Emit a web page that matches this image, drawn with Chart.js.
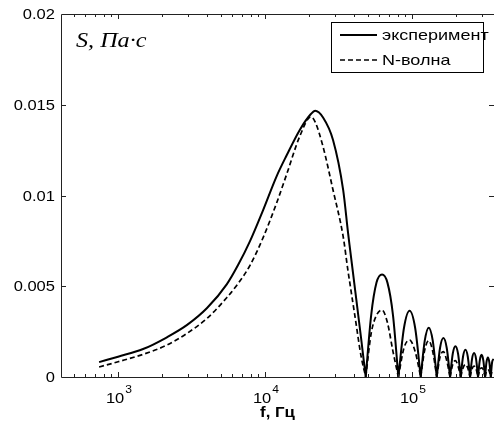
<!DOCTYPE html>
<html>
<head>
<meta charset="utf-8">
<script src="https://cdn.jsdelivr.net/npm/chart.js@4/dist/chart.umd.min.js"></script>
<style>
  html, body { margin: 0; padding: 0; background: #fff; }
  canvas { display: block; }
</style>
</head>
<body>
<canvas id="chart" width="494" height="428"></canvas>
<script>
// Frequency grid, Hz. A repeated frequency with a null value splits the
// curve at each zero of the spectrum, so every lobe is drawn on its own.
const freqHz = [
  743, 1000, 1480, 2150, 2950, 4030, 5500, 6550, 7900, 9700, 12000, 14000, 17300,
  20500, 21900, 24800, 29000, 34000, 36700, 37800, 40900, 45000, 48400,
  48400,
  48400, 52700, 57300, 62500, 68000, 74200, 80700,
  80700,
  80700, 88100, 96200, 105000, 114500,
  114500,
  114500, 122000, 129900, 138300, 147300,
  147300,
  147300, 155000, 163400, 172200, 181400,
  181400,
  181400, 189200, 197200, 205600, 214300,
  214300,
  214300, 222300, 230700, 239300, 248100,
  248100,
  248100, 256000, 264100, 272500, 281000,
  281000,
  281000, 289000, 297100, 305300, 314000,
  314000,
  314000, 320700, 328100, 335700, 343000,
  343000,
  343000, 350200, 358500
];

// Spectral density S, Pa·s — measured
const sExperiment = [
  0.00082, 0.00112, 0.00154, 0.00219, 0.00287, 0.0038, 0.00512, 0.00617, 0.00749, 0.0092, 0.01107, 0.0122, 0.01364,
  0.01449, 0.01467, 0.0143, 0.01306, 0.0103, 0.00794, 0.00709, 0.00486, 0.00214, 0,
  null,
  0, 0.0034, 0.0052, 0.00565, 0.0052, 0.0034, 0,
  null,
  0, 0.0027, 0.00365, 0.0027, 0,
  null,
  0, 0.0020, 0.00272, 0.0020, 0,
  null,
  0, 0.0016, 0.00215, 0.0016, 0,
  null,
  0, 0.00128, 0.0017, 0.00128, 0,
  null,
  0, 0.00113, 0.0015, 0.00113, 0,
  null,
  0, 0.0010, 0.00132, 0.0010, 0,
  null,
  0, 0.00092, 0.00122, 0.00092, 0,
  null,
  0, 0.0008, 0.00108, 0.0008, 0,
  null,
  0, 0.0008, 0.0010
];

// Spectral density S, Pa·s — ideal N-wave
const sNWave = [
  0.00055, 0.00084, 0.00125, 0.00176, 0.00241, 0.00323, 0.00438, 0.00515, 0.00615, 0.00768, 0.0096, 0.01115, 0.0133,
  0.01434, 0.01406, 0.01269, 0.0103, 0.00773, 0.00582, 0.00514, 0.00334, 0.00115, 0,
  null,
  0, 0.0024, 0.0034, 0.00369, 0.0030, 0.0014, 0,
  null,
  0, 0.0016, 0.00204, 0.0014, 0,
  null,
  0, 0.0015, 0.0020, 0.0014, 0,
  null,
  0, 0.0011, 0.0014, 0.0009, 0,
  null,
  0, 0.0007, 0.0009, 0.0006, 0,
  null,
  0, 0.0005, 0.0007, 0.0005, 0,
  null,
  0, 0.00045, 0.0006, 0.00045, 0,
  null,
  0, 0.0004, 0.0005, 0.0004, 0,
  null,
  0, 0.0003, 0.0004, 0.0003, 0,
  null,
  0, 0.0003, 0.0004
];

const seriesLabels = ['эксперимент', 'N-волна'];
const yTickValues = [0, 0.005, 0.01, 0.015, 0.02];
const yTickLabels = ['0', '0.005', '0.01', '0.015', '0.02'];
const xDecades = [1e3, 1e4, 1e5];
const xDecadeExponents = ['3', '4', '5'];
const xMinorTicks = [500, 600, 700, 800, 900,
  2000, 3000, 4000, 5000, 6000, 7000, 8000, 9000,
  20000, 30000, 40000, 50000, 60000, 70000, 80000, 90000,
  200000, 300000];
const xAxisTitle = 'f, Гц';
const yAxisTitle = 'S, Па·с';

const toPoints = values => freqHz.map((f, i) => ({ x: f, y: values[i] }));

const SANS = "'Liberation Sans', Arial, sans-serif";
const SERIF = "'Liberation Serif', 'Times New Roman', serif";

function drawText(ctx, str, x, y, font, align, sx) {
  ctx.save();
  ctx.font = font;
  ctx.textAlign = align;
  ctx.textBaseline = 'alphabetic';
  ctx.translate(x, y);
  ctx.scale(sx, 1);
  ctx.fillText(str, 0, 0);
  ctx.restore();
}

// Axes box, inward ticks, labels and legend, drawn on the chart's own scales
const frame = {
  id: 'frame',
  afterDraw(chart) {
    const { ctx, chartArea: a, scales: { x, y } } = chart;
    ctx.save();
    ctx.strokeStyle = '#222';
    ctx.lineWidth = 1;
    ctx.beginPath();
    ctx.moveTo(a.left + 0.5, a.top + 0.5);
    ctx.lineTo(a.left + 0.5, a.bottom + 0.5);
    ctx.lineTo(a.right, a.bottom + 0.5);
    ctx.moveTo(a.left + 0.5, a.top + 0.5);
    ctx.lineTo(a.right, a.top + 0.5);
    // x ticks, bottom and top
    const xTick = (v, len) => {
      const px = Math.round(x.getPixelForValue(v)) + 0.5;
      ctx.moveTo(px, a.bottom); ctx.lineTo(px, a.bottom - len);
      ctx.moveTo(px, a.top); ctx.lineTo(px, a.top + len);
    };
    xMinorTicks.forEach(v => xTick(v, 3));
    xDecades.forEach(v => xTick(v, 5));
    // y ticks, left and right
    yTickValues.slice(1, -1).forEach(v => {
      const py = Math.round(y.getPixelForValue(v)) + 0.5;
      ctx.moveTo(a.left, py); ctx.lineTo(a.left + 5, py);
      ctx.moveTo(a.right, py); ctx.lineTo(a.right - 5, py);
    });
    ctx.stroke();

    ctx.fillStyle = '#000';
    // y tick labels
    yTickValues.forEach((v, i) => {
      const py = y.getPixelForValue(v);
      drawText(ctx, yTickLabels[i], a.left - 6, py + 5, '14px ' + SANS, 'right', 1.18);
    });
    // x decade labels: 10 with a raised exponent
    xDecades.forEach((v, i) => {
      const px = x.getPixelForValue(v);
      ctx.font = '15px ' + SANS;
      const w = ctx.measureText('10').width * 1.1;
      drawText(ctx, '10', px - w / 2 - 3, 403, '15px ' + SANS, 'left', 1.1);
      drawText(ctx, xDecadeExponents[i], px + w / 2 - 2, 393, '11px ' + SANS, 'left', 1.1);
    });
    // x axis title
    drawText(ctx, xAxisTitle, (a.left + a.right) / 2, 417, 'bold 14px ' + SANS, 'center', 1.2);
    // quantity label inside the plot
    drawText(ctx, yAxisTitle, 76, 47, 'italic 21px ' + SERIF, 'left', 1.15);

    // legend
    const lx = 331, ly = 22, lw = 152, lh = 50;
    ctx.fillStyle = '#fff';
    ctx.fillRect(lx, ly, lw, lh);
    ctx.strokeStyle = '#000';
    ctx.lineWidth = 1;
    ctx.strokeRect(lx + 0.5, ly + 0.5, lw, lh);
    chart.data.datasets.forEach((ds, i) => {
      const yy = ly + 13 + i * 25;
      ctx.save();
      ctx.strokeStyle = ds.borderColor;
      ctx.lineWidth = ds.borderWidth;
      ctx.setLineDash(ds.borderDash || []);
      ctx.beginPath();
      ctx.moveTo(lx + 9, yy);
      ctx.lineTo(lx + 46, yy);
      ctx.stroke();
      ctx.restore();
      ctx.fillStyle = '#000';
      drawText(ctx, ds.label, lx + 51, yy + 5, '15px ' + SANS, 'left', 1.2);
    });
    ctx.restore();
  }
};

new Chart(document.getElementById('chart'), {
  type: 'line',
  data: {
    datasets: [
      {
        label: seriesLabels[0],
        data: toPoints(sExperiment),
        borderColor: '#000',
        borderWidth: 2,
        pointRadius: 0,
        cubicInterpolationMode: 'monotone',
        spanGaps: false,
        fill: false
      },
      {
        label: seriesLabels[1],
        data: toPoints(sNWave),
        borderColor: '#000',
        borderWidth: 1.7,
        borderDash: [5, 3],
        pointRadius: 0,
        cubicInterpolationMode: 'monotone',
        spanGaps: false,
        fill: false
      }
    ]
  },
  options: {
    responsive: false,
    animation: false,
    devicePixelRatio: 1,
    layout: { padding: { left: 61, top: 14, right: 0, bottom: 51 } },
    scales: {
      x: { type: 'logarithmic', min: 409, max: 361000, display: false },
      y: { type: 'linear', min: 0, max: 0.02, display: false }
    },
    plugins: {
      legend: { display: false },
      tooltip: { enabled: false }
    }
  },
  plugins: [frame]
});
</script>
</body>
</html>
